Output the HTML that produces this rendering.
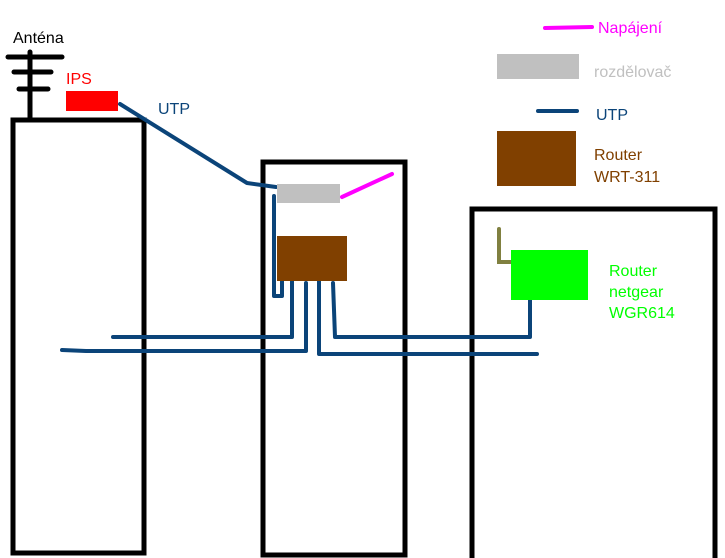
<!DOCTYPE html>
<html><head><style>
html,body{margin:0;padding:0;background:#fff;width:725px;height:558px;overflow:hidden}
svg{display:block}
text{font-family:"Liberation Sans",sans-serif;font-size:16px}
</style></head><body>
<svg width="725" height="558" viewBox="0 0 725 558" xmlns="http://www.w3.org/2000/svg">
<g fill="none" stroke="#000" stroke-width="5">
<path d="M13 553 V120 H144 V553 Z"/>
<path d="M263 555 V162 H405 V555 Z"/>
<path d="M472 558 V209 H715 V558"/>
</g>
<g stroke="#000" stroke-width="5" stroke-linecap="round">
<line x1="30" y1="52" x2="30" y2="118"/>
<line x1="8" y1="57" x2="62" y2="57"/>
<line x1="14" y1="72" x2="51" y2="72"/>
<line x1="19" y1="89" x2="48" y2="89"/>
</g>
<text x="13" y="43" fill="#000">Anténa</text>
<rect x="66" y="91" width="52" height="20" fill="#ff0000"/>
<text x="66" y="84" fill="#ff0000">IPS</text>
<text x="158" y="114" fill="#0b4479">UTP</text>
<g fill="none" stroke="#0b4479" stroke-width="4" stroke-linecap="round" stroke-linejoin="round">
<path d="M120 104 L247 183 L276 187"/>
<path d="M274 196 V296 H282 V280"/>
<path d="M292 281 V337 H113"/>
<path d="M306 283 V351 H86 L62 350"/>
<path d="M319 281 V354 H537"/>
<path d="M333 283 L335 337 H530 V300"/>
<line x1="538" y1="111" x2="577" y2="111"/>
</g>
<rect x="277" y="184" width="63" height="19" fill="#c0c0c0"/>
<line x1="342" y1="197" x2="392" y2="174" stroke="#ff00ff" stroke-width="4" stroke-linecap="round"/>
<rect x="277" y="236" width="70" height="45" fill="#804000"/>
<path d="M499 229 V262 H512" fill="none" stroke="#808040" stroke-width="4" stroke-linecap="round"/>
<rect x="511" y="250" width="77" height="50" fill="#00ff00"/>
<text x="609" y="276" fill="#00ff00">Router</text>
<text x="609" y="297" fill="#00ff00">netgear</text>
<text x="609" y="318" fill="#00ff00">WGR614</text>
<line x1="545" y1="28" x2="592" y2="27" stroke="#ff00ff" stroke-width="4" stroke-linecap="round"/>
<text x="598" y="33" fill="#ff00ff">Napájení</text>
<rect x="497" y="54" width="82" height="25" fill="#c0c0c0"/>
<text x="594" y="77" fill="#c0c0c0">rozdělovač</text>
<text x="596" y="120" fill="#0b4479">UTP</text>
<rect x="497" y="131" width="79" height="55" fill="#804000"/>
<text x="594" y="160" fill="#804000">Router</text>
<text x="594" y="182" fill="#804000">WRT-311</text>
</svg>
</body></html>
